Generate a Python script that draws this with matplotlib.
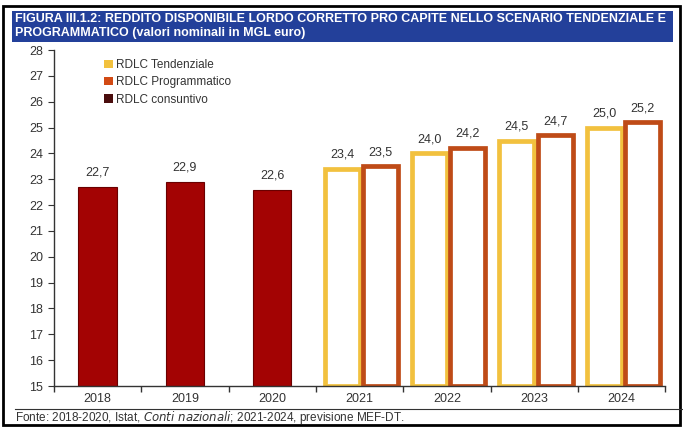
import numpy as np
import matplotlib.pyplot as plt
from matplotlib.patches import Rectangle, Patch

# Dati (migliaia di euro)
anni = ['2018', '2019', '2020', '2021', '2022', '2023', '2024']
consuntivo = [22.7, 22.9, 22.6]
tendenziale = [23.4, 24.0, 24.5, 25.0]
programmatico = [23.5, 24.2, 24.7, 25.2]

giallo = '#F2C13E'
arancio = '#BF4B17'
rosso = '#A30303'
testo = '#333333'

plt.rcParams['font.family'] = ['Liberation Sans', 'DejaVu Sans']

fig = plt.figure(figsize=(6.83, 4.29), dpi=100)
ax = fig.add_axes([0.079, 0.1002, 0.895, 0.783])

x = np.arange(len(anni))
w = 0.44

def etichetta(xx, v):
    ax.annotate(f'{v:.1f}'.replace('.', ','), (xx, v), xytext=(0, 6),
                textcoords='offset points', ha='center', va='bottom',
                fontsize=9, color=testo)

# consuntivo 2018-2020
bc = ax.bar(x[:3], [v - 15 for v in consuntivo], bottom=15, width=w,
            color=rosso, edgecolor='#6a0000', linewidth=0.8)
for xx, v in zip(x[:3], consuntivo):
    etichetta(xx, v)

# scenari 2021-2024: barre vuote con bordo spesso
xs = x[3:]
lw = 3.4
for xx, vt, vp in zip(xs, tendenziale, programmatico):
    ax.bar(xx - w / 2 + 0.02, vt - 15, bottom=15, width=w - 0.04,
           facecolor='white', edgecolor=giallo, linewidth=lw)
    ax.bar(xx + w / 2 + 0.02, vp - 15, bottom=15, width=w - 0.04,
           facecolor='white', edgecolor=arancio, linewidth=lw)
    etichetta(xx - w / 2 + 0.02, vt)
    etichetta(xx + w / 2 + 0.02, vp)

ax.set_xlim(-0.5, len(anni) - 0.5)
ax.set_ylim(15, 28)
ax.set_yticks(range(15, 29))
ax.set_xticks(x)
ax.set_xticklabels(anni)
ax.set_xticks(np.arange(-0.5, len(anni)), minor=True)
ax.tick_params(axis='x', which='major', length=0, labelsize=9,
               labelcolor=testo, pad=5)
ax.tick_params(axis='x', which='minor', length=4, color='#333333', width=1)
ax.tick_params(axis='y', length=4, labelsize=9, labelcolor=testo,
               color='#333333', pad=4)
for s in ['top', 'right']:
    ax.spines[s].set_visible(False)
for s in ['left', 'bottom']:
    ax.spines[s].set_color('#333333')
    ax.spines[s].set_linewidth(1)

handles = [Patch(facecolor=giallo, edgecolor='none'),
           Patch(facecolor='#D24A14', edgecolor='none'),
           Patch(facecolor='#4a0d0d', edgecolor='none')]
leg = ax.legend(handles, ['RDLC Tendenziale', 'RDLC Programmatico',
                          'RDLC consuntivo'],
                loc='upper left', bbox_to_anchor=(0.065, 1.005), frameon=False,
                fontsize=8.5, handlelength=0.7, handleheight=0.7,
                handletextpad=0.3, labelspacing=0.45)
for t in leg.get_texts():
    t.set_color(testo)

# cornice e intestazione
fig.patches.append(Rectangle((0.005, 0.01), 0.99, 0.975, transform=fig.transFigure,
                             fill=False, edgecolor='black', linewidth=2))
fig.patches.append(Rectangle((12 / 683, 1 - 42 / 429), 661 / 683, 31 / 429,
                             transform=fig.transFigure, facecolor='#23409A',
                             edgecolor='none'))
t1 = fig.text(15 / 683, 1 - 19 / 429,
              'FIGURA III.1.2: REDDITO DISPONIBILE LORDO CORRETTO PRO CAPITE NELLO SCENARIO TENDENZIALE E',
              color='white', fontsize=9, fontweight='bold', va='center')
t2 = fig.text(15 / 683, 1 - 33 / 429,
              'PROGRAMMATICO (valori nominali in MGL euro)',
              color='white', fontsize=9, fontweight='bold', va='center')

# adatta il titolo alla larghezza della fascia blu
r = fig.canvas.get_renderer()
largh = t1.get_window_extent(r).width
dim = 9 * 650 / largh
t1.set_fontsize(dim)
t2.set_fontsize(dim)

# fonte
fig.add_artist(plt.Line2D([15 / 683, 1], [1 - 409 / 429] * 2,
                          transform=fig.transFigure, color='#333333', linewidth=0.8))
fig.text(15 / 683, 1 - 418 / 429,
         'Fonte: 2018-2020, Istat, $\\it{Conti\\ nazionali}$; 2021-2024, previsione MEF-DT.',
         fontsize=8.5, color=testo, va='center')

fig.savefig('out.png', dpi=100)
